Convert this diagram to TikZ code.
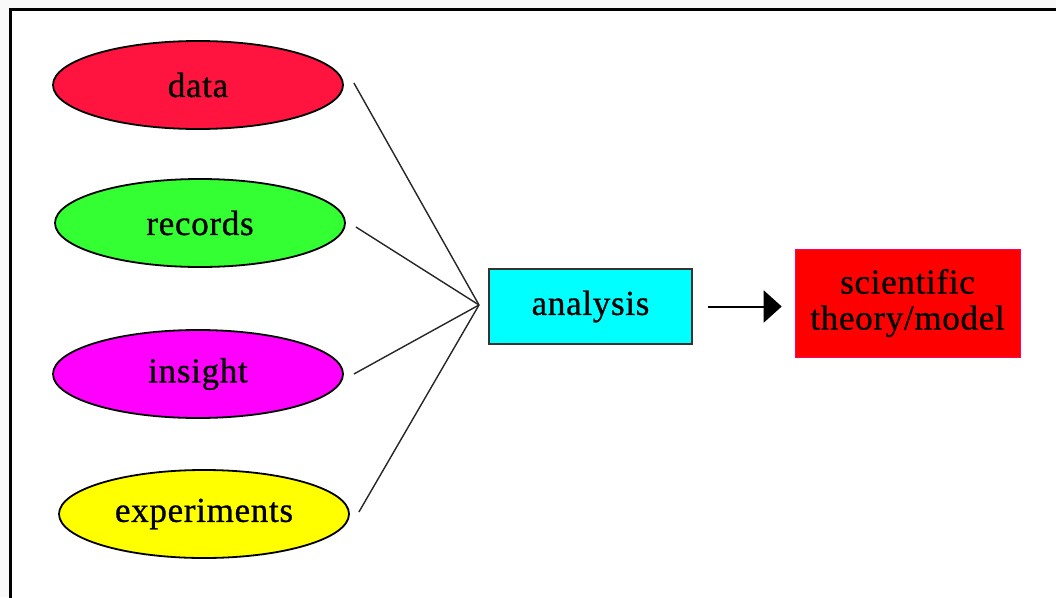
\documentclass[tikz,border=0pt]{standalone}
\usepackage{fontspec}
\setmainfont{Liberation Serif}
\newfontfamily\labelfont[FakeBold=0.8, LetterSpace=2]{Liberation Serif}
\usetikzlibrary{shapes.geometric,arrows.meta}

\definecolor{datared}{RGB}{255,20,64}
\definecolor{recgreen}{RGB}{51,255,51}
\definecolor{insmagenta}{RGB}{255,0,255}
\definecolor{expyellow}{RGB}{255,255,0}
\definecolor{anacyan}{RGB}{0,255,255}
\definecolor{theored}{RGB}{255,0,0}
\definecolor{outergray}{RGB}{249,249,249}

\tikzset{
  labeltext/.style={font=\labelfont\fontsize{35}{36}\selectfont},
  source/.style={ellipse, draw=black, line width=1.8pt, minimum width=290pt,
    minimum height=88pt, inner sep=0pt, labeltext},
  procbox/.style={rectangle, draw=black!80, line width=1.6pt, inner sep=0pt,
    labeltext},
  feed/.style={line width=1.4pt, black!85},
}

\begin{document}
\begin{tikzpicture}[x=1pt, y=-1pt]
  % page and frame
  \fill[outergray] (0,0) rectangle (1056,597);
  \fill[white] (10,9) rectangle (1056,597);
  \useasboundingbox (0,0) rectangle (1056,597);
  \draw[line width=3pt, line cap=rect] (1058,9) -- (10,9) -- (10,599);

  % inputs
  \node[source, fill=datared]    (data)        at (198,85)  {data};
  \node[source, fill=recgreen]   (records)     at (200,223) {records};
  \node[source, fill=insmagenta] (insight)     at (198,374) {insight};
  \node[source, fill=expyellow]  (experiments) at (204,514) {experiments};

  % processing and result
  \node[procbox, fill=anacyan, minimum width=203pt, minimum height=75pt]
    (analysis) at (590.5,306.5) {analysis};
  \node[rectangle, fill=theored, draw=theored!60!magenta, line width=0.6pt,
    minimum width=225pt, minimum height=108pt, inner sep=0pt,
    align=center, labeltext]
    (theory) at (907.5,303) {scientific\\theory/model};

  % converging lines
  \coordinate (hub) at (479,305);
  \draw[feed] ([xshift=10pt, yshift=2pt]data.east) -- (hub);
  \draw[feed] ([xshift=10pt, yshift=-4pt]records.east) -- (hub);
  \draw[feed] ([xshift=10pt]insight.east) -- (hub);
  \draw[feed] ([xshift=9pt, yshift=2pt]experiments.east) -- (hub);

  % result arrow
  \draw[line width=2pt, shorten <=15pt, shorten >=13pt,
    -{Triangle[length=18pt, width=32pt]}]
    (analysis.east) -- (analysis.east -| theory.west);
\end{tikzpicture}
\end{document}
